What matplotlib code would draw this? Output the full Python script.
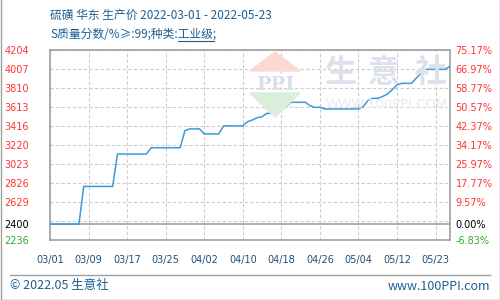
import matplotlib
matplotlib.use('Agg')
import matplotlib.pyplot as plt
from matplotlib.patches import Polygon
from matplotlib.lines import Line2D
import pandas as pd

plt.rcParams['font.family'] = ['Noto Sans CJK SC', 'DejaVu Sans']

# daily price, 2022-03-01 .. 2022-05-23
dates = pd.date_range('2022-03-01', '2022-05-23', freq='D')
prices = [2400, 2400, 2400, 2400, 2400, 2400, 2400, 2790, 2790, 2790,
          2790, 2790, 2790, 2790, 3125, 3125, 3125, 3125, 3125, 3125,
          3125, 3190, 3190, 3190, 3190, 3190, 3190, 3190, 3367, 3385,
          3385, 3385, 3333, 3333, 3333, 3333, 3416, 3416, 3416, 3416,
          3416, 3460, 3477, 3501, 3511, 3546, 3546, 3546, 3598, 3615,
          3660, 3660, 3660, 3660, 3622, 3608, 3608, 3591, 3591, 3591,
          3591, 3591, 3591, 3591, 3591, 3615, 3680, 3701, 3701, 3720,
          3745, 3790, 3840, 3856, 3856, 3856, 3910, 3960, 4001, 4001,
          4001, 4001, 4001, 4035]
base_price = 2400

xtick_dates = ['2022-03-01', '2022-03-09', '2022-03-17', '2022-03-25', '2022-04-02',
               '2022-04-10', '2022-04-18', '2022-04-26', '2022-05-04', '2022-05-12',
               '2022-05-20']
xtick_labels = ['03/01', '03/09', '03/17', '03/25', '04/02', '04/10',
                '04/18', '04/26', '05/04', '05/12', '05/23']

ygrid = [2236, 2433, 2629, 2826, 3023, 3220, 3416, 3613, 3810, 4007, 4204]
left_labels = ['2236', '', '2629', '2826', '3023', '3220', '3416', '3613',
               '3810', '4007', '4204']
right_labels = ['-6.83%', '', '9.57%', '17.77%', '25.97%', '34.17%', '42.37%',
                '50.57%', '58.77%', '66.97%', '75.17%']

title = '硫磺 华东 生产价 2022-03-01 - 2022-05-23'
subtitle = 'S质量分数/%≥:99;种类:工业级;'

blue_txt = '#1d5f95'
red = '#ff3333'
green = '#33aa33'
gray = '#a0a0a0'

fig = plt.figure(figsize=(5, 3), dpi=100)
W, H = 500.0, 300.0

def fx(x):
    return x / W

def fy(y):
    return 1 - y / H

# watermark (behind the axes)
fig.patches.append(Polygon([[fx(275), fy(52)], [fx(250), fy(71)], [fx(300), fy(71)]],
                           closed=True, transform=fig.transFigure, color='#fbd9d3', zorder=0))
fig.patches.append(Polygon([[fx(250), fy(93)], [fx(300), fy(93)], [fx(275), fy(117)]],
                           closed=True, transform=fig.transFigure, color='#d9efdc', zorder=0))
fig.text(fx(275), fy(85), 'PPI', ha='center', va='center', fontsize=14,
         family='DejaVu Serif', fontweight='bold', color='#d9deec', zorder=0)
for cx, ch in zip([340, 384, 431], '生意社'):
    fig.text(fx(cx), fy(73), ch, ha='center', va='center', fontsize=23,
             fontweight='bold', color='#dde1ec', zorder=0)
fig.text(fx(387), fy(105), 'WWW.100PPI.COM', ha='center', va='center',
         fontsize=9.5, family='DejaVu Sans', color='#e8eaf1', zorder=0)

ax = fig.add_axes([fx(50), fy(240), fx(400), (240 - 49.7) / H])
ax.patch.set_alpha(0)

ax.plot(dates, prices, color='#3b9bd8', linewidth=1.1, zorder=3)
ax.axhline(base_price, color=gray, linewidth=1.2, zorder=2)

ax.set_xlim(dates[0], dates[-1])
ax.set_ylim(ygrid[0], ygrid[-1])

ax.set_xticks(pd.to_datetime(xtick_dates), labels=xtick_labels)
ax.set_yticks(ygrid, labels=left_labels)
ax.set_yticks([base_price], labels=[str(base_price)], minor=True)
ax.grid(True, which='major', color='#cccccc', linestyle=(0, (3, 2)), linewidth=0.8)
ax.tick_params(axis='both', which='both', length=0)
ax.tick_params(axis='x', pad=11, labelsize=7, labelcolor='#1f4f7a')
ax.tick_params(axis='y', which='both', pad=15, labelsize=7)
for t in ax.get_yticklabels():
    t.set_family('DejaVu Sans')
    t.set_color(green if t.get_text() == '2236' else red)
ax.get_yticklabels(minor=True)[0].set_color('black')
ax.get_yticklabels(minor=True)[0].set_family('DejaVu Sans')
for t in ax.get_xticklabels():
    t.set_family('DejaVu Sans')
for s in ax.spines.values():
    s.set_color(gray)
    s.set_linewidth(1.2)

ax2 = ax.twinx()
ax2.set_ylim(ax.get_ylim())
ax2.set_yticks(ygrid, labels=right_labels)
ax2.set_yticks([base_price], labels=['0.00%'], minor=True)
ax2.tick_params(axis='y', which='both', length=0, pad=4, labelsize=7)
for t in ax2.get_yticklabels():
    t.set_family('DejaVu Sans')
    t.set_color(green if t.get_text() == '-6.83%' else red)
ax2.get_yticklabels(minor=True)[0].set_color('black')
ax2.get_yticklabels(minor=True)[0].set_family('DejaVu Sans')
for s in ax2.spines.values():
    s.set_visible(False)

# titles
fig.text(fx(50), fy(15), title, ha='left', va='center', fontsize=8.5, color=blue_txt)
fig.text(fx(50), fy(34), subtitle, ha='left', va='center', fontsize=8.5, color=blue_txt)
fig.lines.append(Line2D([fx(178), fx(214)], [fy(41), fy(41)], transform=fig.transFigure,
                        color=blue_txt, linewidth=0.8))

# footer
fig.lines.append(Line2D([fx(10), fx(490)], [fy(275), fy(275)], transform=fig.transFigure,
                        color=gray, linewidth=1))
fig.text(fx(10), fy(286), '© 2022.05 生意社', ha='left', va='center', fontsize=9, color=blue_txt)
fig.text(fx(490), fy(286), 'www.100PPI.com', ha='right', va='center', fontsize=9, color=blue_txt)

# outer frame
fig.lines.append(Line2D([fx(0.5), fx(0.5), fx(499.5), fx(499.5)],
                        [fy(0), fy(299.5), fy(299.5), fy(0)], transform=fig.transFigure,
                        color=gray, linewidth=1))

fig.savefig('out.png', dpi=100)
